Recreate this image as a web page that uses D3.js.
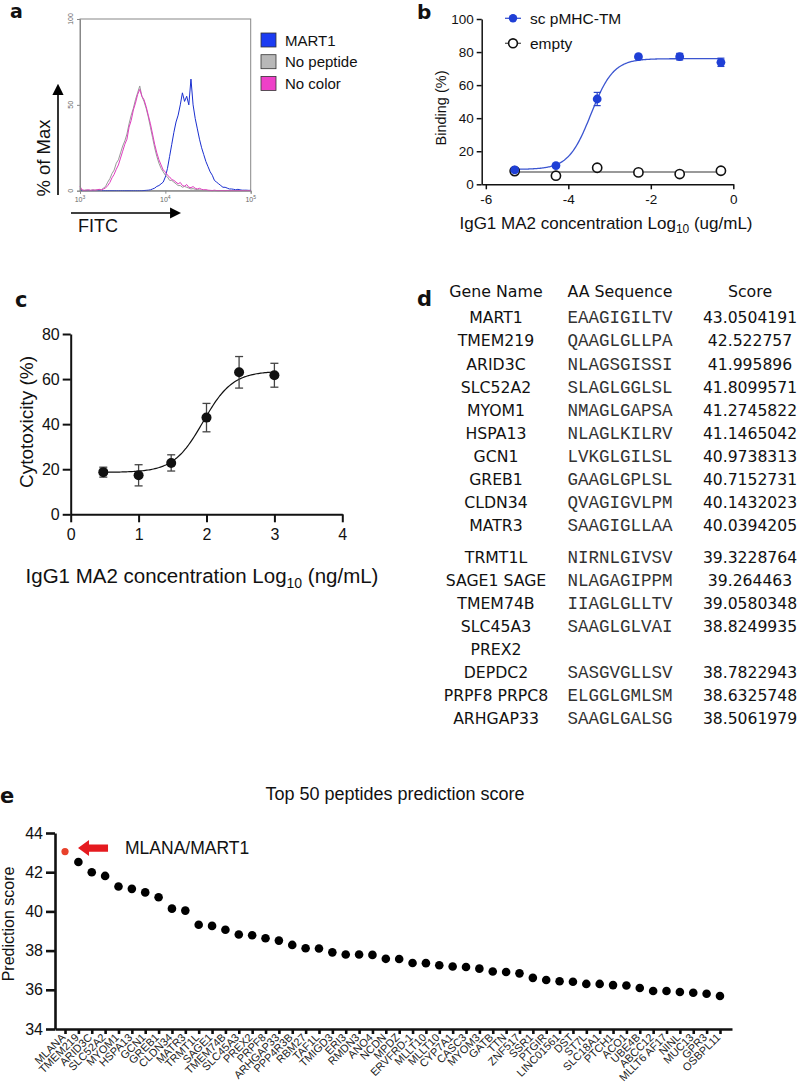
<!DOCTYPE html>
<html>
<head>
<meta charset="utf-8">
<script src="https://cdnjs.cloudflare.com/ajax/libs/d3/7.8.5/d3.min.js"></script>
<style>
  body { margin: 0; background: #fff; }
  text { font-family: "Liberation Sans", Arial, sans-serif; fill: #111; }
</style>
</head>
<body>
<svg id="fig"></svg>
<script>
// ---------- data ----------
// panel a: flow histograms, one value per log10 bin starting at 10^3
const histStart = 3, histStep = 0.025;
const mart1Hist = [
  0, 0, 0, 0, 0, 0, 0, 0, 0, 0, 0, 0, 0, 0, 0, 0, 0, 0, 0, 0,
  0, 0, 0, 0, 0, 0, 0, 0, 0, 0, 0.1, 0.2, 0.3, 0.5, 1, 1.5, 2.5, 3, 4, 5,
  8, 13, 20, 27, 34, 40, 44, 50, 57, 52, 55, 50, 65, 50, 42, 36, 30, 25, 21, 17,
  14, 11, 9, 6, 5, 4, 3, 2, 2, 1.5, 1, 1, 0.8, 0.5, 0.8, 0.5, 0.3, 0.3, 0.3, 0.2,
  0.2
];
const noPeptideHist = [
  1.5, 0.3, 0.2, 0.4, 0.3, 0.2, 0.5, 0.3, 0.4, 0.6, 0.5, 1.5, 2.5, 5, 7, 10, 12, 16, 18, 22,
  26, 29, 33, 39, 44, 48, 53, 57, 61, 55, 52, 48, 43, 37, 31, 25, 20, 16, 13, 11,
  9, 8, 6, 6, 5, 4, 3, 3, 2, 2.5, 2, 1.5, 1, 1.2, 0.8, 0.6, 0.5, 0.3, 0.3, 0.2,
  0.1, 0.1, 0, 0.1, 0, 0, 0, 0.1, 0, 0, 0, 0, 0, 0, 0, 0, 0, 0, 0, 0,
  0
];
const noColorHist = [
  2.5, 0.4, 0.2, 0.3, 0.5, 0.2, 0.4, 0.3, 0.5, 0.8, 0.4, 1, 1.6, 3, 4.8, 7.5, 9.5, 12.5, 15, 19,
  23, 27, 30, 37, 41, 47, 51, 56, 59, 55, 53, 49, 44, 39, 33, 27, 22, 18, 15, 12,
  11, 9, 8, 6.5, 6, 5, 4, 4.8, 3, 2.6, 3.6, 2, 1.8, 2.4, 1.4, 1, 1.4, 0.8, 0.5, 0.6,
  0.3, 0.2, 0.1, 0.3, 0.1, 0, 0.1, 0, 0, 0.1, 0, 0, 0, 0, 0, 0, 0, 0, 0, 0,
  0
];
const histNames = ["MART1", "No peptide", "No color"];
const histColors = ["#1c3cf2", "#b8b8b8", "#ee40c8"];

// panel b: binding vs log10 concentration
const bindLogConc = [-5.3, -4.3, -3.3, -2.3, -1.3, -0.3];
const bindTM = [8.7, 11.3, 51.6, 77.2, 77.2, 73.8];
const bindTMErr = [1, 0.8, 4, 1.2, 2, 2.5];
const bindEmpty = [8, 5.2, 10, 7.2, 6.2, 8.2];
const bindFit = { bottom: 9, top: 76, logEC50: -3.45, hill: 1.6 };
const emptyFitLevel = 7.5;
const bindNames = ["sc pMHC-TM", "empty"];

// panel c: cytotoxicity vs log10 concentration
const cytoLogConc = [0.48, 1, 1.48, 2, 2.48, 3];
const cytoMean = [18.7, 17.3, 22.8, 42.9, 63, 61.7];
const cytoErr = [2.2, 4.7, 3.6, 6.3, 7, 5.3];
const cytoFit = { bottom: 18.6, top: 63.5, logEC50: 1.95, hill: 2.0 };

// panel d: table
const tableHeader = ["Gene Name", "AA Sequence", "Score"];
const tableGenes = ["MART1", "TMEM219", "ARID3C", "SLC52A2", "MYOM1", "HSPA13", "GCN1", "GREB1", "CLDN34", "MATR3",
  "TRMT1L", "SAGE1 SAGE", "TMEM74B", "SLC45A3", "PREX2", "DEPDC2", "PRPF8 PRPC8", "ARHGAP33"];
const tableSeqs = ["EAAGIGILTV", "QAAGLGLLPA", "NLAGSGISSI", "SLAGLGGLSL", "NMAGLGAPSA", "NLAGLKILRV", "LVKGLGILSL",
  "GAAGLGPLSL", "QVAGIGVLPM", "SAAGIGLLAA", "NIRNLGIVSV", "NLAGAGIPPM", "IIAGLGLLTV", "SAAGLGLVAI", "",
  "SASGVGLLSV", "ELGGLGMLSM", "SAAGLGALSG"];
const tableScores = ["43.0504191", "42.522757", "41.995896", "41.8099571", "41.2745822", "41.1465042", "40.9738313",
  "40.7152731", "40.1432023", "40.0394205", "39.3228764", "39.264463", "39.0580348", "38.8249935", "",
  "38.7822943", "38.6325748", "38.5061979"];

// panel e: top 50 peptides
const topGenes = ["MLANA", "TMEM219", "ARID3C", "SLC52A2", "MYOM1", "HSPA13", "GCN1", "GREB1", "CLDN34", "MATR3",
  "TRMT1L", "SAGE1", "TMEM74B", "SLC45A3", "PREX2", "PRPF8", "ARHGAP33", "PPP4R3B", "RBM27", "TAF1L",
  "TMIGD3", "ERI3", "RMDN3", "ANO4", "NCDN", "MPDZ", "ERVFRD-1", "MLLT10", "MLLT10", "CYP7A1",
  "CASC3", "MYOM3", "GATB", "TTN", "ZNF517", "SSR1", "PTGIR", "LINC01561", "DST", "ST7L",
  "SLC18A1", "PTCH1", "ACO1", "UBE4B", "ABCC12", "MLLT6 AF17", "NINL", "MUC13", "GPR3", "OSBPL11"];
const topScores = [43.05, 42.52, 42.00, 41.81, 41.27, 41.15, 40.97, 40.72, 40.14, 40.04,
  39.32, 39.26, 39.06, 38.82, 38.78, 38.63, 38.51, 38.29, 38.12, 38.11,
  37.91, 37.80, 37.80, 37.78, 37.58, 37.57, 37.37, 37.36, 37.25, 37.19,
  37.16, 37.08, 36.93, 36.91, 36.84, 36.61, 36.50, 36.44, 36.41, 36.30,
  36.30, 36.24, 36.22, 36.09, 35.94, 35.94, 35.89, 35.85, 35.80, 35.68];
const topTitle = "Top 50 peptides prediction score";
const topNote = "MLANA/MART1";

// ---------- drawing ----------
const SANS = "'Liberation Sans', Arial, sans-serif";
const VERDANA = "'DejaVu Sans', Verdana, sans-serif";
const MONO = "'Liberation Mono', 'Courier New', monospace";

const svg = d3.select("#fig").attr("width", 798).attr("height", 1086);
svg.append("rect").attr("width", 798).attr("height", 1086).attr("fill", "#fff");

const defs = svg.append("defs");
defs.append("marker")
  .attr("id", "arrowhead")
  .attr("viewBox", "0 0 10 10")
  .attr("refX", 8).attr("refY", 5)
  .attr("markerWidth", 7).attr("markerHeight", 7)
  .attr("orient", "auto")
  .append("path").attr("d", "M0,0 L10,5 L0,10 Z").attr("fill", "#000");

function sigmoid(p, x) {
  return p.bottom + (p.top - p.bottom) / (1 + Math.pow(10, p.hill * (p.logEC50 - x)));
}

function panelLetter(t, x, y, size) {
  svg.append("text").attr("x", x).attr("y", y)
    .attr("font-size", size || 21).attr("font-weight", "bold")
    .style("font-family", VERDANA)
    .text(t);
}

function styleAxis(g, width, fontSize) {
  g.selectAll("path, line").attr("stroke", "#111").attr("stroke-width", width);
  g.selectAll("text").attr("font-size", fontSize).style("fill", "#111").style("font-family", SANS);
}

function drawHistogram() {
  const x = d3.scaleLinear().domain([3, 5]).range([80, 250.7]);
  const y = d3.scaleLinear().domain([0, 100]).range([190.7, 19]);
  const g = svg.append("g");

  g.append("rect")
    .attr("x", x(3)).attr("y", y(100))
    .attr("width", x(5) - x(3)).attr("height", y(0) - y(100))
    .attr("fill", "none").attr("stroke", "#888").attr("stroke-width", 1);

  const line = d3.line()
    .x(function(d, i) { return x(histStart + i * histStep) })
    .y(function(d) { return y(d) });

  [mart1Hist, noPeptideHist, noColorHist].forEach(function(s, k) {
    g.append("path").datum(s)
      .attr("fill", "none")
      .attr("stroke", k == 0 ? "#1a2fd0" : k == 1 ? "#999" : "#e03cc0")
      .attr("stroke-width", 1)
      .attr("stroke-linejoin", "round")
      .attr("d", line);
  });

  const yAx = g.append("g").attr("transform", "translate(" + x(3) + ",0)")
    .call(d3.axisLeft(y).tickValues([0, 50, 100]).tickSize(3).tickFormat(""));
  yAx.selectAll("path, line").attr("stroke", "#888");
  const xAx = g.append("g").attr("transform", "translate(0," + y(0) + ")")
    .call(d3.axisBottom(x).tickValues([3, 4, 5]).tickSize(3).tickFormat(""));
  xAx.selectAll("path, line").attr("stroke", "#888");

  [0, 50, 100].forEach(function(v) {
    g.append("text")
      .attr("transform", "translate(" + (x(3) - 7) + "," + y(v) + ") rotate(-90)")
      .attr("text-anchor", "middle").attr("font-size", 7).style("fill", "#666")
      .text(v);
  });
  [3, 4, 5].forEach(function(v) {
    const t = g.append("text").attr("x", x(v)).attr("y", 202)
      .attr("text-anchor", "middle").attr("font-size", 7).style("fill", "#666");
    t.append("tspan").text("10");
    t.append("tspan").attr("font-size", 5).attr("dy", -3).text(v);
  });

  // axis arrows
  g.append("line").attr("x1", 58).attr("y1", 195).attr("x2", 58).attr("y2", 86)
    .attr("stroke", "#000").attr("stroke-width", 1.6).attr("marker-end", "url(#arrowhead)");
  g.append("line").attr("x1", 71).attr("y1", 213).attr("x2", 179).attr("y2", 213)
    .attr("stroke", "#000").attr("stroke-width", 1.6).attr("marker-end", "url(#arrowhead)");
  g.append("text").attr("transform", "translate(50,158) rotate(-90)")
    .attr("text-anchor", "middle").attr("font-size", 18.5).text("% of Max");
  g.append("text").attr("x", 78).attr("y", 232).attr("font-size", 18).text("FITC");

  // legend
  const lg = g.selectAll(".hleg").data(histNames).enter().append("g")
    .attr("transform", function(d, i) { return "translate(261," + (33 + i * 21.7) + ")" });
  lg.append("rect").attr("width", 15).attr("height", 14)
    .attr("fill", function(d, i) { return histColors[i] })
    .attr("stroke", "#333").attr("stroke-width", 0.8);
  lg.append("text").attr("x", 24).attr("y", 12.5).attr("font-size", 15).text(function(d) { return d });
}

function drawBinding() {
  const x = d3.scaleLinear().domain([-6.1, 0]).range([481.7, 733.3]);
  const y = d3.scaleLinear().domain([0, 100]).range([184.3, 19]);
  const g = svg.append("g");

  const yAx = g.append("g").attr("transform", "translate(" + x(-6.1) + ",0)")
    .call(d3.axisLeft(y).tickValues([0, 20, 40, 60, 80, 100]).tickSize(5).tickSizeOuter(0).tickPadding(3));
  styleAxis(yAx, 1.5, 13.5);
  const xAx = g.append("g").attr("transform", "translate(0," + y(0) + ")")
    .call(d3.axisBottom(x).tickValues([-6, -4, -2, 0]).tickSize(5).tickSizeOuter(0).tickPadding(5)
      .tickFormat(function(d) { return String(d) }));
  styleAxis(xAx, 1.5, 13.5);

  // fits
  const fitLine = d3.line().x(function(d) { return x(d) }).y(function(d) { return y(sigmoid(bindFit, d)) });
  g.append("path").datum(d3.range(bindLogConc[0], bindLogConc[5] + 0.001, 0.02))
    .attr("fill", "none").attr("stroke", "#3b55d0").attr("stroke-width", 1.3).attr("d", fitLine);
  g.append("line")
    .attr("x1", x(bindLogConc[0])).attr("x2", x(bindLogConc[5]))
    .attr("y1", y(emptyFitLevel)).attr("y2", y(emptyFitLevel))
    .attr("stroke", "#777").attr("stroke-width", 1.5);

  // error bars
  bindLogConc.forEach(function(c, i) {
    const e = g.append("g").attr("stroke", "#2a45c8").attr("stroke-width", 1.2);
    e.append("line").attr("x1", x(c)).attr("x2", x(c)).attr("y1", y(bindTM[i] - bindTMErr[i])).attr("y2", y(bindTM[i] + bindTMErr[i]));
    e.append("line").attr("x1", x(c) - 3.5).attr("x2", x(c) + 3.5).attr("y1", y(bindTM[i] - bindTMErr[i])).attr("y2", y(bindTM[i] - bindTMErr[i]));
    e.append("line").attr("x1", x(c) - 3.5).attr("x2", x(c) + 3.5).attr("y1", y(bindTM[i] + bindTMErr[i])).attr("y2", y(bindTM[i] + bindTMErr[i]));
  });

  g.selectAll(".empty").data(bindEmpty).enter().append("circle")
    .attr("cx", function(d, i) { return x(bindLogConc[i]) })
    .attr("cy", function(d) { return y(d) })
    .attr("r", 4.6).attr("fill", "#fff").attr("stroke", "#111").attr("stroke-width", 1.6);
  g.selectAll(".tm").data(bindTM).enter().append("circle")
    .attr("cx", function(d, i) { return x(bindLogConc[i]) })
    .attr("cy", function(d) { return y(d) })
    .attr("r", 4.4).attr("fill", "#1f3fd6");

  // axis titles
  g.append("text").attr("transform", "translate(446,108) rotate(-90)")
    .attr("text-anchor", "middle").attr("font-size", 14.5).text("Binding (%)");
  const xl = g.append("text").attr("x", 606).attr("y", 229).attr("text-anchor", "middle").attr("font-size", 17);
  xl.append("tspan").text("IgG1 MA2 concentration Log");
  xl.append("tspan").attr("font-size", 12).attr("dy", 4).text("10");
  xl.append("tspan").attr("dy", -4).text(" (ug/mL)");

  // legend
  const lg = g.selectAll(".bleg").data(bindNames).enter().append("g")
    .attr("transform", function(d, i) { return "translate(513," + (18.3 + i * 25) + ")" });
  lg.append("line").attr("x1", -8).attr("x2", 8).attr("stroke", function(d, i) { return i == 0 ? "#3b55d0" : "#555" })
    .attr("stroke-width", 1.3);
  lg.append("circle").attr("r", function(d, i) { return i == 0 ? 4.2 : 4.4 })
    .attr("fill", function(d, i) { return i == 0 ? "#1f3fd6" : "#fff" })
    .attr("stroke", function(d, i) { return i == 0 ? "none" : "#111" }).attr("stroke-width", 1.6);
  lg.append("text").attr("x", 17).attr("y", 5.5).attr("font-size", 15.5).text(function(d) { return d });
}

function drawCytotoxicity() {
  const x = d3.scaleLinear().domain([0, 4]).range([70.7, 342.3]);
  const y = d3.scaleLinear().domain([0, 80]).range([514.3, 334]);
  const g = svg.append("g");

  const yAx = g.append("g").attr("transform", "translate(" + x(0) + ",0)")
    .call(d3.axisLeft(y).tickValues([0, 20, 40, 60, 80]).tickSize(8).tickSizeOuter(0).tickPadding(3));
  styleAxis(yAx, 2, 16);
  const xAx = g.append("g").attr("transform", "translate(0," + y(0) + ")")
    .call(d3.axisBottom(x).tickValues([0, 1, 2, 3, 4]).tickSize(8).tickSizeOuter(0).tickPadding(6)
      .tickFormat(d3.format("d")));
  styleAxis(xAx, 2, 16);

  const fitLine = d3.line().x(function(d) { return x(d) }).y(function(d) { return y(sigmoid(cytoFit, d)) });
  g.append("path").datum(d3.range(cytoLogConc[0], cytoLogConc[5] + 0.001, 0.02))
    .attr("fill", "none").attr("stroke", "#111").attr("stroke-width", 1.2).attr("d", fitLine);

  cytoLogConc.forEach(function(c, i) {
    const e = g.append("g").attr("stroke", "#444").attr("stroke-width", 1.3);
    const lo = y(cytoMean[i] - cytoErr[i]), hi = y(cytoMean[i] + cytoErr[i]);
    e.append("line").attr("x1", x(c)).attr("x2", x(c)).attr("y1", lo).attr("y2", hi);
    e.append("line").attr("x1", x(c) - 4).attr("x2", x(c) + 4).attr("y1", lo).attr("y2", lo);
    e.append("line").attr("x1", x(c) - 4).attr("x2", x(c) + 4).attr("y1", hi).attr("y2", hi);
  });
  g.selectAll(".cy").data(cytoMean).enter().append("circle")
    .attr("cx", function(d, i) { return x(cytoLogConc[i]) })
    .attr("cy", function(d) { return y(d) })
    .attr("r", 5).attr("fill", "#111");

  g.append("text").attr("transform", "translate(33,422) rotate(-90)")
    .attr("text-anchor", "middle").attr("font-size", 19).text("Cytotoxicity (%)");
  const xl = g.append("text").attr("x", 202).attr("y", 583).attr("text-anchor", "middle").attr("font-size", 20.5);
  xl.append("tspan").text("IgG1 MA2 concentration Log");
  xl.append("tspan").attr("font-size", 14).attr("dy", 5).text("10");
  xl.append("tspan").attr("dy", -5).text(" (ng/mL)");
}

function drawTable() {
  const colX = [496, 620, 750];
  const g = svg.append("g");
  tableHeader.forEach(function(h, j) {
    g.append("text").attr("x", colX[j]).attr("y", 297).attr("text-anchor", "middle")
      .attr("font-size", 15.8).style("font-family", VERDANA).text(h);
  });
  function rowY(i) { return i < 10 ? 323.3 + i * 23.1 : 563.3 + (i - 10) * 22.9 }
  tableGenes.forEach(function(name, i) {
    g.append("text").attr("x", colX[0]).attr("y", rowY(i)).attr("text-anchor", "middle")
      .attr("font-size", 15.7).style("font-family", VERDANA).text(name);
    g.append("text").attr("x", colX[1]).attr("y", rowY(i)).attr("text-anchor", "middle")
      .attr("font-size", 17.5).style("font-family", MONO).style("fill", "#333")
      .text(tableSeqs[i]);
    g.append("text").attr("x", colX[2]).attr("y", rowY(i)).attr("text-anchor", "middle")
      .attr("font-size", 15.6).style("font-family", VERDANA).text(tableScores[i]);
  });
}

function drawTopPeptides() {
  const x = d3.scaleLinear().domain([-0.75, 49.9]).range([55, 732]);
  const y = d3.scaleLinear().domain([34, 44]).range([1029, 833]);
  const g = svg.append("g");

  g.append("text").attr("x", 395).attr("y", 800).attr("text-anchor", "middle")
    .attr("font-size", 18).text(topTitle);

  const yAx = g.append("g").attr("transform", "translate(" + x(-0.75) + ",0)")
    .call(d3.axisLeft(y).tickValues([34, 36, 38, 40, 42, 44]).tickSize(9).tickSizeOuter(0).tickPadding(3));
  styleAxis(yAx, 2.6, 16);
  const xAx = g.append("g").attr("transform", "translate(0," + y(34) + ")")
    .call(d3.axisBottom(x).tickValues(d3.range(topGenes.length)).tickSize(5).tickSizeOuter(0)
      .tickFormat(function(i) { return topGenes[i] }));
  styleAxis(xAx, 2.6, 11);
  xAx.selectAll("text")
    .attr("x", -6).attr("y", 3).attr("dy", "0.35em")
    .attr("text-anchor", "end").attr("transform", "rotate(-45)")
    .style("fill", "#222");

  g.append("text").attr("transform", "translate(13.5,924) rotate(-90)")
    .attr("text-anchor", "middle").attr("font-size", 16).text("Prediction score");

  g.selectAll(".pt").data(topScores).enter().append("circle")
    .attr("cx", function(d, i) { return x(i) })
    .attr("cy", function(d) { return y(d) })
    .attr("r", function(d, i) { return i == 0 ? 3.6 : 4.3 })
    .attr("fill", function(d, i) { return i == 0 ? "#e8412b" : "#000" });

  // arrow pointing at the MLANA point
  const tipX = x(0) + 13, cy = y(topScores[0]) - 3.5;
  const arrow = d3.path();
  arrow.moveTo(tipX, cy);
  arrow.lineTo(tipX + 11, cy - 8);
  arrow.lineTo(tipX + 11, cy - 3.6);
  arrow.lineTo(tipX + 30, cy - 3.6);
  arrow.lineTo(tipX + 30, cy + 3.6);
  arrow.lineTo(tipX + 11, cy + 3.6);
  arrow.lineTo(tipX + 11, cy + 8);
  arrow.closePath();
  g.append("path").attr("d", arrow.toString()).attr("fill", "#e51a1f");
  g.append("text").attr("x", tipX + 47).attr("y", cy + 6).attr("font-size", 17.5).text(topNote);
}

drawHistogram();
drawBinding();
drawCytotoxicity();
drawTable();
drawTopPeptides();

panelLetter("a", 10, 18, 19);
panelLetter("b", 417, 19, 20);
panelLetter("c", 15, 307);
panelLetter("d", 417, 306);
panelLetter("e", 0, 803);
</script>
</body>
</html>
